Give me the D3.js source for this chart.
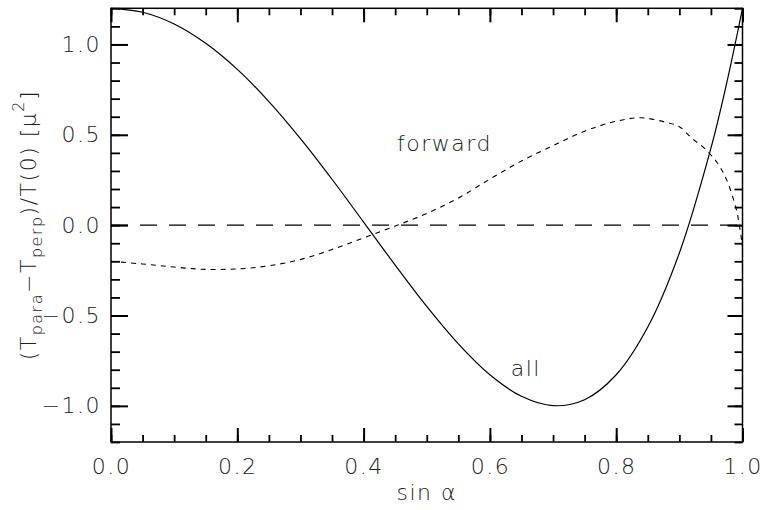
<!DOCTYPE html>
<html>
<head>
<meta charset="utf-8">
<script src="https://cdn.jsdelivr.net/npm/d3@7"></script>
<style>
  body { margin: 0; background: white; }
  text { font-family: "DejaVu Sans", sans-serif; font-weight: 200; fill: #222; }
</style>
</head>
<body>
<div id="chart"></div>
<script>
"use strict"

// sin(alpha) samples and values
const allX = [0, 0.05, 0.10, 0.15, 0.20, 0.25, 0.30, 0.35, 0.40, 0.45, 0.50, 0.55, 0.60, 0.65,
  0.70, 0.75, 0.80, 0.85, 0.90, 0.95, 0.975, 1.0]
const allY = [1.200, 1.178, 1.113, 1.006, 0.862, 0.684, 0.479, 0.254, 0.017, -0.221, -0.450, -0.657,
  -0.828, -0.947, -0.999, -0.966, -0.828, -0.564, -0.154, 0.426, 0.787, 1.200]

const fwdX = [0, 0.05, 0.10, 0.15, 0.20, 0.25, 0.30, 0.35, 0.40, 0.45, 0.50, 0.55, 0.60, 0.65,
  0.70, 0.75, 0.80, 0.84, 0.88, 0.90, 0.92, 0.94, 0.96, 0.975, 0.99, 0.995, 1.0]
const fwdY = [-0.200, -0.215, -0.232, -0.245, -0.242, -0.225, -0.190, -0.135, -0.070, -0.005, 0.065,
  0.150, 0.255, 0.355, 0.440, 0.520, 0.575, 0.594, 0.568, 0.545, 0.480, 0.425, 0.345, 0.250, 0.090,
  0.000, -0.120]

const xMajor = [0, 0.2, 0.4, 0.6, 0.8, 1.0]
const yMajor = [-1.0, -0.5, 0.0, 0.5, 1.0]

const labels = [
  {text: "forward", x: 0.528, y: 0.41, anchor: "middle"},
  {text: "all", x: 0.633, y: -0.837, anchor: "start"},
]

const width = 763, height = 510
const margin = ({top: 8.3, right: 20.5, bottom: 68, left: 111})

const x = d3.scaleLinear().domain([0, 1]).range([margin.left, width - margin.right])
const y = d3.scaleLinear().domain([-1.2, 1.2]).range([height - margin.bottom, margin.top])

const svg = d3.select("#chart").append("svg")
  .attr("width", width)
  .attr("height", height)

const fmt = d3.format(".1f")
const xMinor = d3.range(0, 1.0001, 0.05)
const yMinor = d3.range(-12, 13).map(d => d / 10)

function styleTicks(g, w) {
  g.select(".domain").remove()
  g.selectAll("line").attr("stroke", "#000").attr("stroke-width", w)
  g.selectAll("text").style("font-size", "22px").style("letter-spacing", "1.5px")
    .attr("fill", "#222")
}

// minor ticks, all four sides
svg.append("g").attr("transform", `translate(${x(0)},0)`)
  .call(d3.axisLeft(y).tickValues(yMinor).tickSize(-9).tickFormat(""))
  .call(g => styleTicks(g, 1.8))
svg.append("g").attr("transform", `translate(${x(1)},0)`)
  .call(d3.axisRight(y).tickValues(yMinor).tickSize(-8).tickFormat(""))
  .call(g => styleTicks(g, 1.8))
svg.append("g").attr("transform", `translate(0,${y(-1.2)})`)
  .call(d3.axisBottom(x).tickValues(xMinor).tickSize(-7).tickFormat(""))
  .call(g => styleTicks(g, 1.8))
svg.append("g").attr("transform", `translate(0,${y(1.2)})`)
  .call(d3.axisTop(x).tickValues(xMinor).tickSize(-7).tickFormat(""))
  .call(g => styleTicks(g, 1.8))

// major ticks with labels
svg.append("g").attr("transform", `translate(${x(0)},0)`)
  .call(d3.axisLeft(y).tickValues(yMajor).tickSize(-17).tickPadding(10).tickFormat(fmt))
  .call(g => styleTicks(g, 2))
svg.append("g").attr("transform", `translate(${x(1)},0)`)
  .call(d3.axisRight(y).tickValues(yMajor).tickSize(-15).tickFormat(""))
  .call(g => styleTicks(g, 2))
svg.append("g").attr("transform", `translate(0,${y(-1.2)})`)
  .call(d3.axisBottom(x).tickValues(xMajor).tickSize(-14).tickPadding(16).tickFormat(fmt))
  .call(g => styleTicks(g, 2))
svg.append("g").attr("transform", `translate(0,${y(1.2)})`)
  .call(d3.axisTop(x).tickValues(xMajor).tickSize(-14).tickFormat(""))
  .call(g => styleTicks(g, 2))

// frame
svg.append("rect")
  .attr("x", x(0)).attr("y", y(1.2))
  .attr("width", x(1) - x(0)).attr("height", y(-1.2) - y(1.2))
  .attr("fill", "none").attr("stroke", "#000").attr("stroke-width", 1.5)

// zero line
svg.append("line")
  .attr("x1", x(0)).attr("x2", x(1))
  .attr("y1", y(0)).attr("y2", y(0))
  .attr("stroke", "#000").attr("stroke-width", 1.2)
  .attr("stroke-dasharray", "17 12")

const line = d3.line().x(d => x(d[0])).y(d => y(d[1])).curve(d3.curveCatmullRom)

svg.append("path")
  .datum(d3.zip(allX, allY))
  .attr("d", line)
  .attr("fill", "none").attr("stroke", "#000").attr("stroke-width", 1.2)

svg.append("path")
  .datum(d3.zip(fwdX, fwdY))
  .attr("d", line)
  .attr("fill", "none").attr("stroke", "#000").attr("stroke-width", 1.1)
  .attr("stroke-dasharray", "5 5")

svg.selectAll(".lbl")
  .data(labels)
  .enter()
  .append("text")
  .attr("class", "lbl")
  .attr("x", d => x(d.x))
  .attr("y", d => y(d.y))
  .attr("text-anchor", d => d.anchor)
  .style("font-size", "22px")
  .style("letter-spacing", "1.5px")
  .text(d => d.text)

// x title
svg.append("text")
  .attr("x", x(0.5))
  .attr("y", 500)
  .attr("text-anchor", "middle")
  .style("font-size", "22px")
  .style("letter-spacing", "1.5px")
  .text("sin α")

// y title
const yt = svg.append("text")
  .attr("transform", `translate(36,${y(0)}) rotate(-90)`)
  .attr("text-anchor", "middle")
  .style("font-size", "22px")
  .style("letter-spacing", "1.5px")
yt.append("tspan").text("(T")
yt.append("tspan").attr("dy", 6).style("font-size", "16px").text("para")
yt.append("tspan").attr("dy", -6).text("−T")
yt.append("tspan").attr("dy", 6).style("font-size", "16px").text("perp")
yt.append("tspan").attr("dy", -6).text(")/T(0)  [μ")
yt.append("tspan").attr("dy", -12).style("font-size", "16px").text("2")
yt.append("tspan").attr("dy", 12).text("]")
</script>
</body>
</html>
